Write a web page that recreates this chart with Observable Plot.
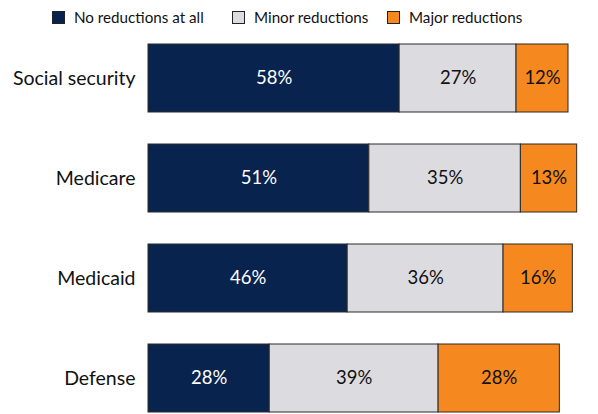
<!DOCTYPE html>
<html>
<head>
<meta charset="utf-8">
<script src="https://cdn.jsdelivr.net/npm/d3@7"></script>
<script src="https://cdn.jsdelivr.net/npm/@observablehq/plot@0.6"></script>
<style>
  html, body { margin: 0; padding: 0; background: #fff; }
  body { width: 598px; height: 414px; overflow: hidden; font-family: Lato, "Open Sans", sans-serif; }
  #legend { position: relative; height: 32px; }
  .item { position: absolute; top: 1px; height: 32px; display: flex; align-items: center; font-size: 15.2px; color: #111; white-space: nowrap; }
  .sw { width: 11px; height: 11px; border: 1px solid #222; margin-right: 9px; }
</style>
</head>
<body>
<div id="legend"></div>
<div id="chart"></div>
<script>
const categories = ["Social security", "Medicare", "Medicaid", "Defense"];
const series = ["No reductions at all", "Minor reductions", "Major reductions"];
const noReductions = [58, 51, 46, 28];
const minorReductions = [27, 35, 36, 39];
const majorReductions = [12, 13, 16, 28];
const colors = ["#08234e", "#dcdbe0", "#f5891f"];
const legendX = [52, 232, 387];

const values = [noReductions, minorReductions, majorReductions];
const data = [];
categories.forEach((c, i) => {
  series.forEach((s, j) => data.push({category: c, series: s, value: values[j][i]}));
});

const legend = document.getElementById("legend");
series.forEach((s, j) => {
  const it = document.createElement("div");
  it.className = "item";
  it.style.left = legendX[j] + "px";
  it.innerHTML = `<div class="sw" style="background:${colors[j]}"></div><span>${s}</span>`;
  legend.appendChild(it);
});

const chart = Plot.plot({
  width: 598,
  height: 382,
  marginLeft: 148,
  marginRight: 17,
  marginTop: 11.5,
  marginBottom: 2.5,
  style: {fontFamily: "Lato, 'Open Sans', sans-serif", background: "#fff"},
  x: {domain: [0, 100], axis: null},
  y: {domain: categories, paddingInner: 0.32, paddingOuter: 0, label: null},
  color: {domain: series, range: colors},
  marks: [
    Plot.barX(data, Plot.stackX({x: "value", y: "category", fill: "series", stroke: "#2a2a2a", strokeWidth: 1})),
    Plot.text(data, Plot.stackX({
      x: "value", y: "category", z: "series",
      text: d => d.value + "%",
      fill: d => d.series === series[0] ? "#ffffff" : "#111111",
      fontSize: 18.5
    })),
    Plot.axisY({tickSize: 0, tickPadding: 13, fontSize: 19.5, label: null, color: "#111"})
  ]
});
document.getElementById("chart").appendChild(chart);
</script>
</body>
</html>
